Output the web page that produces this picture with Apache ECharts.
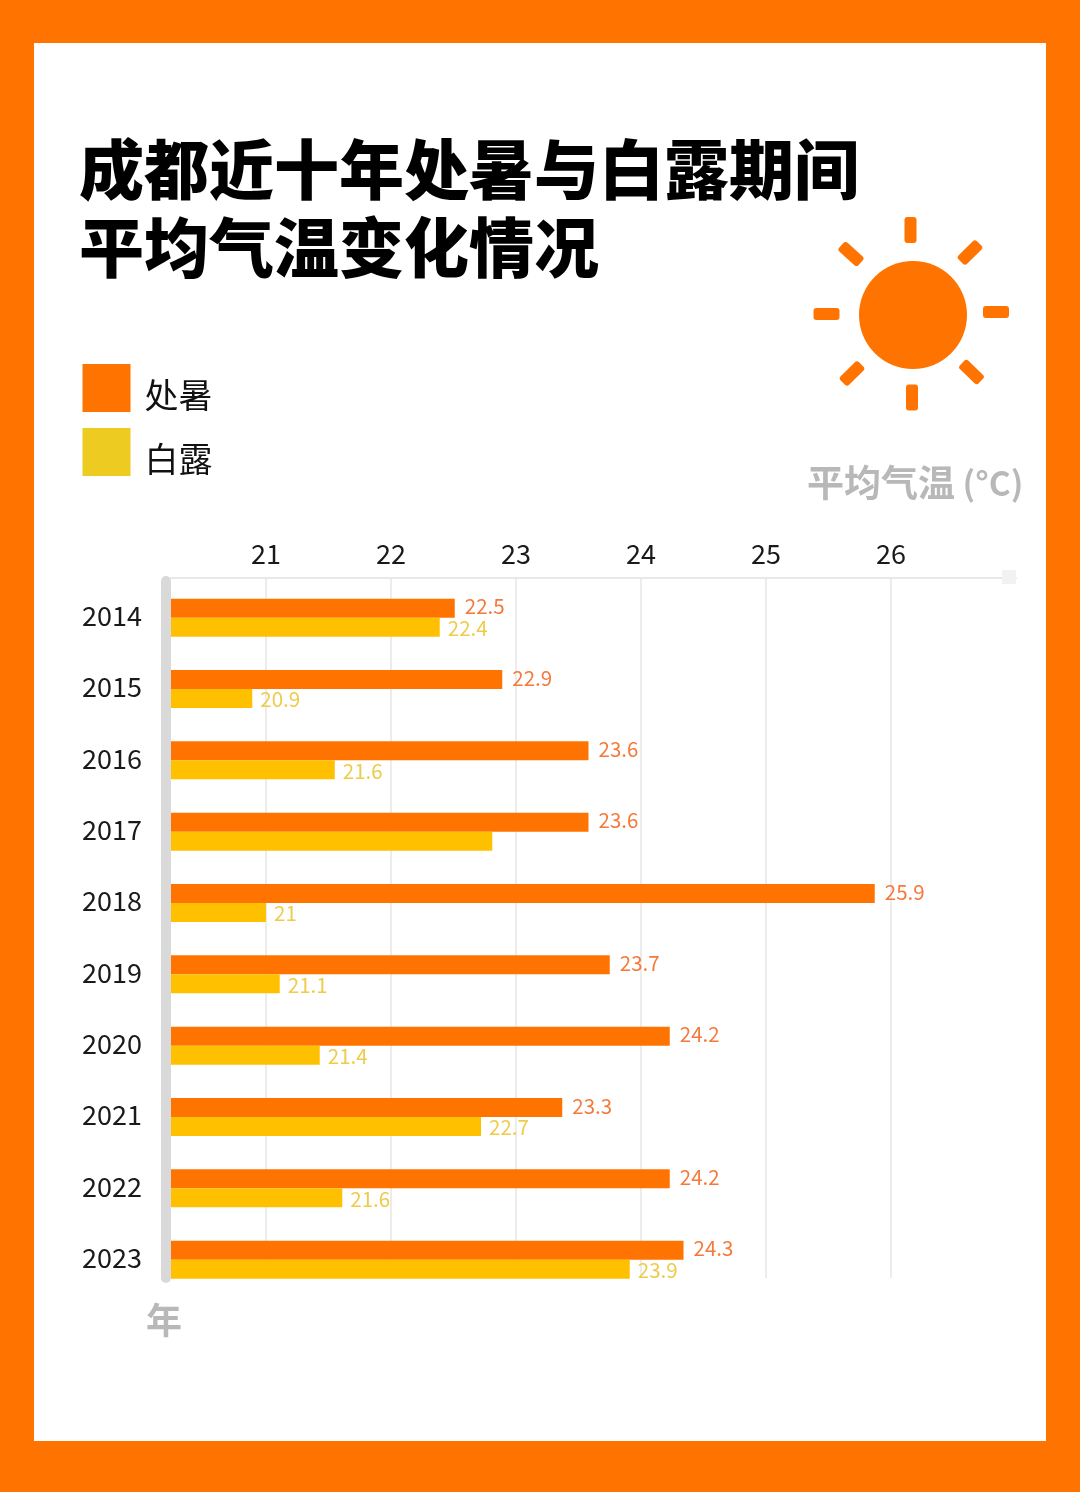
<!DOCTYPE html>
<html><head><meta charset="utf-8">
<style>
html,body{margin:0;padding:0;width:1080px;height:1492px;background:#ff7300;overflow:hidden}
#panel{position:absolute;left:33.5px;top:43px;width:1012.5px;height:1398px;background:#fff}
#chart{position:absolute;left:0;top:0;width:1080px;height:1492px}
</style>
<script src="https://cdn.jsdelivr.net/npm/echarts@6/dist/echarts.min.js"></script>
</head><body>
<div id="panel"></div><div id="chart"></div>
<script>
const years = ['2014','2015','2016','2017','2018','2019','2020','2021','2022','2023'];
const chushuBars = [22.51,22.89,23.58,23.58,25.87,23.75,24.23,23.37,24.23,24.34];
const bailuBars  = [22.39,20.89,21.55,22.81,21.0,21.11,21.43,22.72,21.61,23.91];
const chushuLabels = ['22.5','22.9','23.6','23.6','25.9','23.7','24.2','23.3','24.2','24.3'];
const bailuLabels  = ['22.4','20.9','21.6','','21','21.1','21.4','22.7','21.6','23.9'];
const FONT = '"Noto Sans CJK SC","Noto Sans",sans-serif';
const ORANGE = '#ff7300';

const rays = [[910.5,230,90],[912,397.5,90],[826.5,314,0],[996,312,0],[851,254,42],[970,252.5,-45],[852,373.5,-45],[971.5,372,44]];
const sun = [{type:'circle',shape:{cx:913,cy:315,r:54},style:{fill:ORANGE}}].concat(rays.map(r=>({
  type:'rect',x:r[0],y:r[1],rotation:-r[2]*Math.PI/180,
  shape:{x:-13,y:-6,width:26,height:12,r:3},style:{fill:ORANGE}
})));

const chart = echarts.init(document.getElementById('chart'),null,{renderer:'canvas'});
chart.setOption({
  animation:false,
  backgroundColor:'transparent',
  textStyle:{fontFamily:FONT},
  title:{left:74,top:125,text:'成都近十年处暑与白露期间\n平均气温变化情况',
    textStyle:{fontFamily:FONT,fontSize:65,fontWeight:900,color:'#000',lineHeight:78}},
  legend:{orient:'vertical',left:82.5,top:364,itemWidth:48,itemHeight:62,itemGap:2,padding:0,
    icon:'path://M0 0H48V48H0Z M0 62L0 62Z',
    data:[{name:'处暑',itemStyle:{color:ORANGE}},{name:'白露',itemStyle:{color:'#eecb20'}}],
    textStyle:{fontFamily:FONT,fontSize:34,color:'#111',padding:[0,0,0,9]}},
  grid:[
    {left:141,top:578,width:875,height:700},
    {left:171,top:582,width:845,height:713.3}
  ],
  xAxis:[
    {gridIndex:0,type:'value',position:'top',min:20,max:27,interval:1,
      axisLine:{show:false},axisTick:{show:false},
      axisLabel:{fontFamily:FONT,fontSize:27,color:'#1a1a1a',margin:11,showMinLabel:false,showMaxLabel:false},
      splitLine:{show:true,showMinLine:false,showMaxLine:false,lineStyle:{color:'#e6e6e6',width:1.5}}},
    {gridIndex:1,type:'value',position:'top',offset:4,min:20.24,max:27,
      axisLine:{show:true,lineStyle:{color:'#e8e8e8',width:2}},axisTick:{show:false},
      axisLabel:{show:false},splitLine:{show:false}}
  ],
  yAxis:[
    {gridIndex:0,type:'value',show:false},
    {gridIndex:1,type:'category',inverse:true,data:years,
      axisLine:{show:false},axisTick:{show:false},
      axisLabel:{fontFamily:FONT,fontSize:27,color:'#1a1a1a',margin:29,align:'right',verticalAlign:'bottom',lineHeight:4}}
  ],
  series:[
    {name:'处暑',type:'bar',xAxisIndex:1,yAxisIndex:1,barWidth:19,barGap:0,data:chushuBars,
      itemStyle:{color:ORANGE},
      label:{show:true,position:'right',distance:10,offset:[0,-1.5],fontFamily:FONT,fontSize:20.5,color:'#f5793b',
        formatter:p=>chushuLabels[p.dataIndex]}},
    {name:'白露',type:'bar',xAxisIndex:1,yAxisIndex:1,barWidth:19,barGap:0,data:bailuBars,
      itemStyle:{color:'#ffc000'},
      label:{show:true,position:'right',distance:8,offset:[0,1],fontFamily:FONT,fontSize:20.5,color:'#eecb4a',
        formatter:p=>bailuLabels[p.dataIndex]}}
  ],
  graphic:{elements:[
    {type:'rect',z:10,shape:{x:161,y:576,width:10,height:707,r:5},style:{fill:'#d9d9d9'}},
    {type:'rect',z:10,shape:{x:1002,y:570,width:14,height:14},style:{fill:'#f2f2f2'}},
    {type:'text',z:10,x:807,y:483,style:{text:'{a|平均气温}{b| (°C)}',verticalAlign:'middle',
      rich:{a:{font:'700 37px '+FONT,fill:'#b8b8b8'},b:{font:'700 33.5px '+FONT,fill:'#b8b8b8'}}}},
    {type:'text',z:10,x:146,y:1320,style:{text:'年',font:'700 36px '+FONT,fill:'#b8b8b8',verticalAlign:'middle'}}
  ].concat(sun)}
});
</script>
</body></html>
